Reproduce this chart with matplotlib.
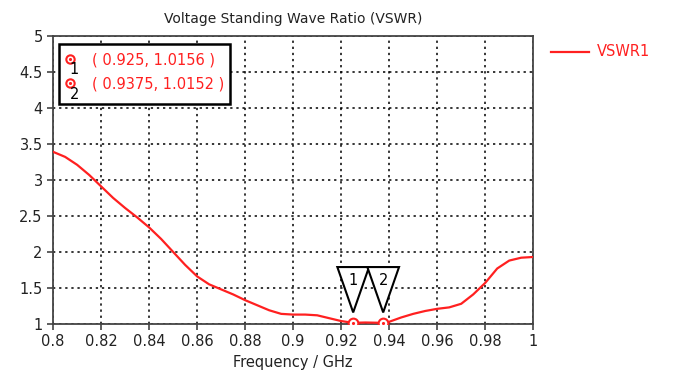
import matplotlib.pyplot as plt
from matplotlib.patches import Polygon

# VSWR curve
freq = [0.800, 0.805, 0.810, 0.815, 0.820, 0.825, 0.830, 0.835, 0.840, 0.845,
        0.850, 0.855, 0.860, 0.865, 0.870, 0.875, 0.880, 0.885, 0.890, 0.895,
        0.900, 0.905, 0.910, 0.915, 0.920, 0.925, 0.930, 0.9375, 0.940, 0.945,
        0.950, 0.955, 0.960, 0.965, 0.970, 0.975, 0.980, 0.985, 0.990, 0.995, 1.000]
vswr = [3.39, 3.32, 3.21, 3.07, 2.91, 2.75, 2.61, 2.48, 2.34, 2.18,
        2.00, 1.82, 1.66, 1.55, 1.48, 1.41, 1.33, 1.26, 1.19, 1.14,
        1.13, 1.13, 1.12, 1.08, 1.04, 1.0156, 1.02, 1.0152, 1.03, 1.09,
        1.14, 1.18, 1.21, 1.23, 1.28, 1.41, 1.57, 1.77, 1.88, 1.92, 1.93]

marker_x = [0.925, 0.9375]
marker_y = [1.0156, 1.0152]
marker_names = ["1", "2"]

xticks = [0.8, 0.82, 0.84, 0.86, 0.88, 0.9, 0.92, 0.94, 0.96, 0.98, 1]
xticklabels = ["0.8", "0.82", "0.84", "0.86", "0.88", "0.9", "0.92", "0.94", "0.96", "0.98", "1"]
yticks = [1, 1.5, 2, 2.5, 3, 3.5, 4, 4.5, 5]
yticklabels = ["1", "1.5", "2", "2.5", "3", "3.5", "4", "4.5", "5"]

red = "#ff2020"
plt.rcParams['font.family'] = ['DejaVu Sans']

fig = plt.figure(figsize=(6.81, 3.78), dpi=100)
ax = fig.add_axes([0.078, 0.143, 0.705, 0.762])

ax.plot(freq, vswr, color=red, lw=1.6, zorder=3)
ax.set_xlim(0.8, 1.0)
ax.set_ylim(1, 5)
ax.set_xticks(xticks)
ax.set_xticklabels(xticklabels)
ax.set_yticks(yticks)
ax.set_yticklabels(yticklabels)
ax.grid(True, color="black", linestyle=(0, (1.5, 2.5)), lw=1.1)
for s in ax.spines.values():
    s.set_color("#444444")
    s.set_linewidth(1.3)
ax.tick_params(axis="both", labelsize=10.5, colors="#444444", labelcolor="#222222",
               length=4, width=1.2, direction="out")

ax.set_title("Voltage Standing Wave Ratio (VSWR)", fontsize=10, color="#222222", pad=9)
ax.set_xlabel("Frequency / GHz", fontsize=10.5, color="#222222", labelpad=4)

# marker triangles with numbers
half_w = 0.0066
for mx, name in zip(marker_x, marker_names):
    tri = Polygon([(mx - half_w, 1.79), (mx + half_w, 1.79), (mx, 1.16)],
                  closed=True, facecolor="white", edgecolor="black", lw=1.5, zorder=4)
    ax.add_patch(tri)
    ax.text(mx, 1.6, name, ha="center", va="center", fontsize=10.5, zorder=5)

ax.plot(marker_x, marker_y, "o", ms=7, mfc="white", mec=red, mew=1.5, zorder=6)
ax.plot(marker_x, marker_y, ".", ms=2.5, color=red, zorder=7)

# marker readout box
box_x0, box_x1 = 0.8025, 0.8738
box_y0, box_y1 = 4.06, 4.89
ax.add_patch(plt.Rectangle((box_x0, box_y0), box_x1 - box_x0, box_y1 - box_y0,
                           facecolor="white", edgecolor="black", lw=1.8, zorder=8))
rows_y = [4.67, 4.33]
for ry, mx, my, name in zip(rows_y, marker_x, marker_y, marker_names):
    ax.plot([0.8071], [ry + 0.01], "o", ms=6, mfc="white", mec=red, mew=1.5, zorder=9)
    ax.plot([0.8071], [ry + 0.01], ".", ms=2.5, color=red, zorder=10)
    ax.text(0.8088, ry - 0.14, name, fontsize=10.5, ha="center", va="center", zorder=10)
    ax.text(0.8162, ry, "( %s, %s )" % (mx, my), fontsize=10.5, color=red,
            va="center", ha="left", zorder=10)

# legend on the right
fig.lines.append(plt.Line2D([551 / 681, 589 / 681], [1 - 52 / 378, 1 - 52 / 378],
                            color=red, lw=1.6, transform=fig.transFigure))
fig.text(597 / 681, 1 - 52 / 378, "VSWR1", color=red, fontsize=10.5, va="center")

fig.savefig("out.png", dpi=100)
